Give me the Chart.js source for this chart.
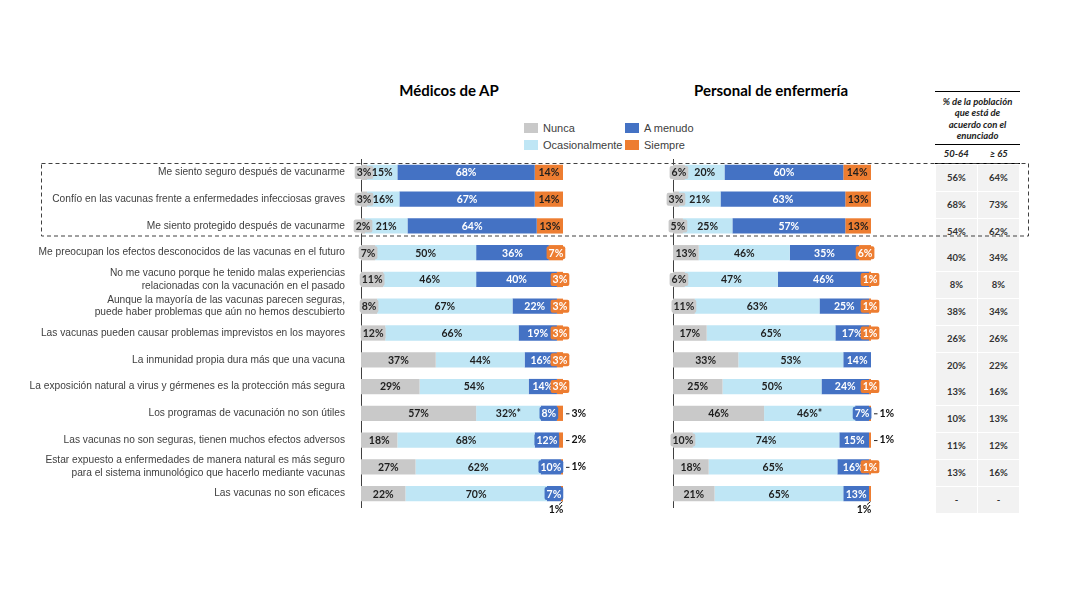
<!DOCTYPE html>
<html lang="es">
<head>
<meta charset="utf-8">
<title>Actitudes frente a la vacunación</title>
<script src="https://cdn.jsdelivr.net/npm/chart.js@4.4.1/dist/chart.umd.min.js"></script>
<style>
  body { margin: 0; width: 1080px; height: 608px; background: #fff; position: relative; overflow: hidden;
         font-family: "Liberation Sans", Arial, sans-serif; }
  canvas { position: absolute; }
  #chartMed { left: 0; top: 150px; }
  #chartEnf { left: 640px; top: 150px; }
  .titulo { position: absolute; top: 81px; font: bold 15px Lato, sans-serif; color: #000;
            transform: translateX(-50%); white-space: nowrap; }
  #leyenda { position: absolute; left: 524px; top: 119px; display: grid; grid-auto-flow: column;
             grid-template-rows: 17px 17px; grid-template-columns: 101px 100px; font-size: 11px; color: #404040; }
  #leyenda div { display: flex; align-items: center; }
  #leyenda span { display: inline-block; width: 14px; height: 10px; margin-right: 5px; }
  #cabecera { position: absolute; left: 935px; top: 91px; width: 85px; border-top: 1.3px solid #000;
              font: italic bold 9.5px Lato, sans-serif; color: #222; text-align: center; }
  #cabecera .texto { padding-top: 4px; line-height: 11.3px; height: 48px; white-space: nowrap;
                     border-bottom: 1.3px solid #000; }
  #cabecera .cols { display: flex; height: 18px; line-height: 18px; border-bottom: 1.3px solid #000; }
  #cabecera .cols div { flex: 1; }
  .celda { position: absolute; width: 41px; height: 26px; background: #f2f2f2; font: bold 9.5px Lato, sans-serif;
           color: #333; text-align: center; line-height: 26px; }
  svg { position: absolute; left: 0; top: 0; pointer-events: none; }
</style>
</head>
<body>
<div class="titulo" style="left:449px">Médicos de AP</div>
<div class="titulo" style="left:771px">Personal de enfermería</div>
<div id="leyenda"></div>
<div id="cabecera">
  <div class="texto">% de la población<br>que está de<br>acuerdo con el<br>enunciado</div>
  <div class="cols"><div>50-64</div><div>≥ 65</div></div>
</div>
<div id="tabla"></div>
<canvas id="chartMed" width="600" height="370"></canvas>
<canvas id="chartEnf" width="280" height="370"></canvas>
<svg width="1080" height="608">
  <rect x="41.5" y="163.5" width="987" height="72.5" fill="none" stroke="#404040" stroke-width="1" stroke-dasharray="4 3"/>
</svg>
<script>
const preguntas = [
  'Me siento seguro después de vacunarme',
  'Confío en las vacunas frente a enfermedades infecciosas graves',
  'Me siento protegido después de vacunarme',
  'Me preocupan los efectos desconocidos de las vacunas en el futuro',
  ['No me vacuno porque he tenido malas experiencias', 'relacionadas con la vacunación en el pasado'],
  ['Aunque la mayoría de las vacunas parecen seguras,', 'puede haber problemas que aún no hemos descubierto'],
  'Las vacunas pueden causar problemas imprevistos en los mayores',
  'La inmunidad propia dura más que una vacuna',
  'La exposición natural a virus y gérmenes es la protección más segura',
  'Los programas de vacunación no son útiles',
  'Las vacunas no son seguras, tienen muchos efectos adversos',
  ['Estar expuesto a enfermedades de manera natural es más seguro', 'para el sistema inmunológico que hacerlo mediante vacunas'],
  'Las vacunas no son eficaces'
];

const series = ['Nunca', 'Ocasionalmente', 'A menudo', 'Siempre'];
const colores = ['#c9c9c9', '#bfe6f5', '#4472c4', '#ed7d31'];

// Médicos de AP (%)
const medNunca     = [3, 3, 2, 7, 11, 8, 12, 37, 29, 57, 18, 27, 22];
const medOcasional = [15, 16, 21, 50, 46, 67, 66, 44, 54, 32, 68, 62, 70];
const medAMenudo   = [68, 67, 64, 36, 40, 22, 19, 16, 14, 8, 12, 10, 7];
const medSiempre   = [14, 14, 13, 7, 3, 3, 3, 3, 3, 3, 2, 1, 1];

// Personal de enfermería (%)
const enfNunca     = [6, 3, 5, 13, 6, 11, 17, 33, 25, 46, 10, 18, 21];
const enfOcasional = [20, 21, 25, 46, 47, 63, 65, 53, 50, 46, 74, 65, 65];
const enfAMenudo   = [60, 63, 57, 35, 46, 25, 17, 14, 24, 7, 15, 16, 13];
const enfSiempre   = [14, 13, 13, 6, 1, 1, 1, 0, 1, 1, 1, 1, 1];

// % de la población que está de acuerdo con el enunciado
const acuerdo5064 = [56, 68, 54, 40, 8, 38, 26, 20, 13, 10, 11, 13, null];
const acuerdo65   = [64, 73, 62, 34, 8, 34, 26, 22, 16, 13, 12, 16, null];

// filas con asterisco en "Ocasionalmente"
const conAsterisco = [9];

// leyenda
const leyenda = document.getElementById('leyenda');
series.forEach((s, i) => {
  const d = document.createElement('div');
  d.innerHTML = '<span style="background:' + colores[i] + '"></span>' + s;
  leyenda.appendChild(d);
});

// tabla de la derecha
const tabla = document.getElementById('tabla');
[acuerdo5064, acuerdo65].forEach((col, c) => {
  col.forEach((v, i) => {
    const d = document.createElement('div');
    d.className = 'celda';
    d.style.left = (936 + c * 42) + 'px';
    d.style.top = (165 + i * 26.8) + 'px';
    d.textContent = v === null ? '-' : v + '%';
    tabla.appendChild(d);
  });
});

// etiquetas de valores dentro / fuera de las barras
const etiquetas = {
  id: 'etiquetas',
  afterDatasetsDraw(chart, args, opts) {
    const ctx = chart.ctx;
    ctx.save();
    ctx.font = 'bold 10.5px Lato, sans-serif';
    ctx.textBaseline = 'middle';
    ctx.textAlign = 'center';
    chart.data.datasets.forEach((ds, di) => {
      chart.getDatasetMeta(di).data.forEach((bar, i) => {
        const v = ds.data[i];
        if (!v) return;
        const txt = v + '%' + (di === 1 && conAsterisco.includes(i) ? '*' : '');
        const left = Math.min(bar.base, bar.x);
        const right = Math.max(bar.base, bar.x);
        const w = right - left;
        const cy = bar.y;
        const tw = ctx.measureText(txt).width;
        if (di === 3 && opts.fuera.includes(i)) {
          ctx.strokeStyle = '#222';
          ctx.lineWidth = 1;
          ctx.beginPath();
          ctx.moveTo(right + 3, cy + 0.5);
          ctx.lineTo(right + 6.5, cy + 0.5);
          ctx.stroke();
          ctx.fillStyle = '#111';
          ctx.textAlign = 'left';
          ctx.fillText(txt, right + 8.5, cy);
          ctx.textAlign = 'center';
        } else if (di === 3 && opts.abajo === i) {
          ctx.strokeStyle = '#222';
          ctx.lineWidth = 1;
          ctx.beginPath();
          ctx.moveTo(right - 0.5, cy + 8);
          ctx.lineTo(right - 4, cy + 11);
          ctx.stroke();
          ctx.fillStyle = '#111';
          ctx.fillText(txt, right - 7, cy + 15.5);
        } else if (tw + 4 > w) {
          const bw = tw + 4, bh = 13;
          const cx = (left + right) / 2;
          ctx.fillStyle = ds.backgroundColor;
          ctx.beginPath();
          ctx.roundRect(cx - bw / 2, cy - bh / 2, bw, bh, 2);
          ctx.fill();
          ctx.fillStyle = di === 0 || di === 1 ? '#262626' : '#fff';
          ctx.fillText(txt, cx, cy + 0.5);
        } else {
          ctx.fillStyle = di === 2 ? '#fff' : '#1e1e1e';
          ctx.fillText(txt, (left + right) / 2, cy + 0.5);
        }
      });
    });
    ctx.restore();
  }
};

function crearGrafico(id, valores, ejeAncho, paddingRight, conEtiquetas, colocacion) {
  return new Chart(document.getElementById(id), {
    type: 'bar',
    data: {
      labels: preguntas,
      datasets: series.map((s, i) => ({
        label: s,
        data: valores[i],
        backgroundColor: colores[i],
        borderWidth: 0,
        barPercentage: 0.57,
        categoryPercentage: 1
      }))
    },
    options: {
      indexAxis: 'y',
      responsive: false,
      animation: false,
      layout: { padding: { top: 9, bottom: 13, left: 0, right: paddingRight } },
      plugins: {
        legend: { display: false },
        tooltip: { enabled: false },
        etiquetas: colocacion
      },
      scales: {
        x: { stacked: true, min: 0, max: 100, display: false },
        y: {
          stacked: true,
          grid: { display: false, drawTicks: false },
          border: { display: true, color: '#404040', width: 1 },
          ticks: {
            display: conEtiquetas,
            autoSkip: false,
            padding: 16,
            color: '#404040',
            font: { family: '"Liberation Sans", Arial, sans-serif', size: 10.2, lineHeight: 1.25 }
          },
          afterFit(scale) {
            scale.width = ejeAncho;
            scale.paddingTop = 0;
            scale.paddingBottom = 0;
          }
        }
      }
    },
    plugins: [etiquetas]
  });
}

crearGrafico('chartMed', [medNunca, medOcasional, medAMenudo, medSiempre], 361, 37, true,
  { fuera: [9, 10, 11], abajo: 12 });
crearGrafico('chartEnf', [enfNunca, enfOcasional, enfAMenudo, enfSiempre], 33, 49, false,
  { fuera: [9, 10], abajo: 12 });
</script>
</body>
</html>
